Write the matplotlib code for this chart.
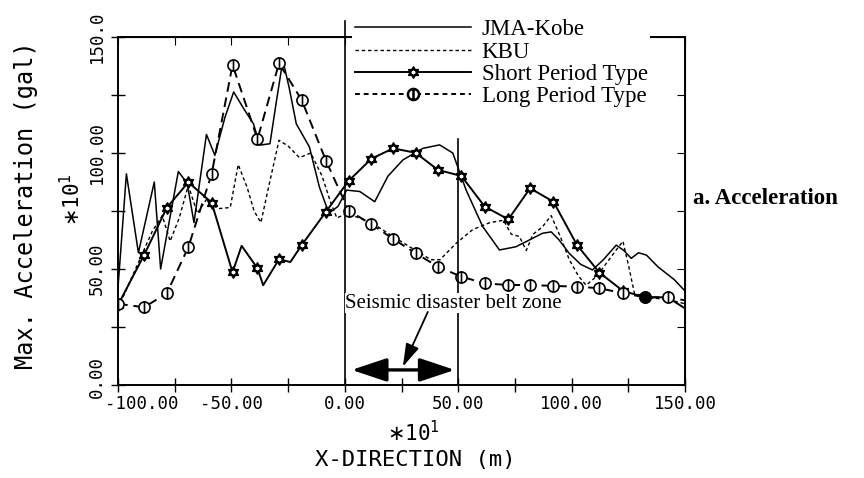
"""Max. acceleration along the X-direction across the seismic disaster belt zone."""

import matplotlib

matplotlib.use("Agg")
import matplotlib.pyplot as plt
from matplotlib.path import Path
from matplotlib.transforms import ScaledTranslation

# Marker stations shared by the two simulated waves (x in *10 m)
STATION_X = [-100, -88.5, -78.5, -69, -58.7, -49.5, -38.5, -29, -19, -8.3,
             1.7, 11.7, 21.3, 31.2, 41.1, 51.4, 61.7, 72.1, 81.7, 92,
             102.4, 112.3, 122.6, 132.2, 142.4]

# Short Period Type (values in *10 gal)
SHORT_Y = [34.5, 56, 76.4, 87.4, 78.6, 48.6, 50.3, 54.2, 60.3, 74.7,
           88, 97.5, 102, 100.1, 92.7, 90.1, 76.9, 71.4, 84.8, 79,
           60.3, 48.4, 40.6, 37.8, 37.8]
SHORT_EXTRA_X = [-45.5, -36, -24, 150]
SHORT_EXTRA_Y = [60, 43, 53, 33]

# Long Period Type
LONG_Y = [35, 33.5, 39.5, 59.4, 91, 138, 106, 138.7, 122.8, 96.7,
          75.2, 69.3, 63, 56.8, 51, 46.7, 43.8, 43.1, 43.1, 42.7,
          42.4, 41.7, 39.6, 37.8, 37.8]
LONG_EXTRA_X = [150]
LONG_EXTRA_Y = [36.5]
LONG_FILLED = [23]

# JMA-Kobe
JMA_X = [-100, -96.3, -91, -84, -81.2, -77.5, -73.4, -69.5, -66.5, -61,
         -57.3, -52.8, -49, -44.5, -40.3, -37.4, -33, -30.2, -27.3, -24.5,
         -21.4, -15.6, -11.2, -7, -3, 0.8, 6.6, 13.2, 19, 25.6,
         34.4, 41.8, 47.6, 53.5, 60.8, 68.2, 75.5, 87.2, 91, 94.5,
         98.9, 104, 109.2, 114, 119.7, 123, 126.3, 129.5, 133, 138,
         145.4, 150]
JMA_Y = [42, 91, 57, 87.5, 50, 70, 92, 87, 70, 108,
         99, 115.5, 126.3, 119, 112.6, 103.4, 104, 122, 140, 128,
         112.6, 102.6, 85.3, 74, 77, 84, 83.4, 79, 90, 97,
         102, 103.5, 100, 84, 68.3, 58.2, 59.6, 65.4, 66, 62.5,
         56.8, 52, 49.6, 54, 60.3, 58, 54.6, 57, 56, 51,
         45.3, 40.5]

# KBU
KBU_X = [-100, -95, -90, -85, -80.5, -77, -73, -69, -65, -61,
         -56, -50.5, -47, -43, -40, -37, -33, -29, -25, -20,
         -15, -10, -6, -3.5, 1, 11.7, 21.3, 31.2, 38, 42,
         49, 56.4, 64, 70, 73.4, 77, 80, 83, 87, 91,
         95, 99, 103, 106.4, 110, 113.7, 118, 122.6, 125, 127.7,
         135, 142, 150]
KBU_Y = [33, 44, 55, 66, 73, 62, 72, 86, 74, 80,
         76, 76.5, 95, 85, 75, 70, 88, 105.5, 103, 98,
         100, 90, 78, 72, 74, 70, 64, 58, 54, 54,
         61, 67, 70, 71, 65, 64, 58, 65, 68, 73,
         64, 54, 47, 43, 46, 50.3, 56, 62, 52, 39.5,
         37.5, 37, 35]

X_TICKS = [-100, -50, 0, 50, 100, 150]
X_TICK_LABELS = ["-100.00", "-50.00", "0.00", "50.00", "100.00", "150.00"]
Y_TICKS = [0, 50, 100, 150]
Y_TICK_LABELS = ["0.00", "50.00", "100.00", "150.0"]
MINOR_STEP = 25

ZONE_X = [0, 50]
ZONE_TOP = [157, 106]
ARROW_Y = 6.5

W, H = 864, 478
MONO = "DejaVu Sans Mono"
SERIF = "Liberation Serif"


def hexagram_marker():
    """Star-of-David marker made of two triangles."""
    up = [(0, 1), (-0.866, -0.5), (0.866, -0.5), (0, 1)]
    down = [(0, -1), (0.866, 0.5), (-0.866, 0.5), (0, -1)]
    codes = [Path.MOVETO, Path.LINETO, Path.LINETO, Path.CLOSEPOLY]
    return Path.make_compound_path(Path(up, codes), Path(down, codes))


def barred_circle_marker():
    """Open circle with a vertical bar through it."""
    bar = Path([(0, -1), (0, 1)], [Path.MOVETO, Path.LINETO])
    return Path.make_compound_path(Path.unit_circle(), bar)


def merged(xs, ys, extra_x, extra_y):
    pts = sorted(zip(list(xs) + list(extra_x), list(ys) + list(extra_y)))
    return [p[0] for p in pts], [p[1] for p in pts]


def main():
    fig = plt.figure(figsize=(W / 100, H / 100), dpi=100)
    ax = fig.add_axes([118 / W, 1 - 385 / H, 567 / W, 348 / H])

    ax.plot(JMA_X, JMA_Y, color="black", lw=1.1, label="JMA-Kobe")
    ax.plot(KBU_X, KBU_Y, color="black", lw=1.0, ls=(0, (2.5, 2)), label="KBU")

    sx, sy = merged(STATION_X, SHORT_Y, SHORT_EXTRA_X, SHORT_EXTRA_Y)
    ax.plot(sx, sy, color="black", lw=1.4)
    ax.plot(STATION_X, SHORT_Y, ls="none", marker=hexagram_marker(), ms=8,
            mfc="white", mec="black", mew=1.2, zorder=4)

    lx, ly = merged(STATION_X, LONG_Y, LONG_EXTRA_X, LONG_EXTRA_Y)
    ax.plot(lx, ly, color="black", lw=1.4, ls=(0, (5, 3)))
    ax.plot(STATION_X, LONG_Y, ls="none", marker=barred_circle_marker(), ms=8,
            mfc="white", mec="black", mew=1.2, zorder=4)
    ax.plot([STATION_X[i] for i in LONG_FILLED], [LONG_Y[i] for i in LONG_FILLED],
            ls="none", marker="o", ms=8, color="black", zorder=4)

    # legend proxies
    ax.plot([], [], color="black", lw=1.4, marker=hexagram_marker(), ms=8,
            mfc="white", mec="black", mew=1.2, label="Short Period Type")
    ax.plot([], [], color="black", lw=1.4, ls=(0, (2.5, 2)),
            marker=barred_circle_marker(), ms=8, mfc="white", mec="black",
            mew=1.8, label="Long Period Type")

    leg = ax.legend(loc="upper left", bbox_to_anchor=(0.393, 1.09),
                    frameon=True, facecolor="white", edgecolor="none",
                    framealpha=1, fancybox=False, borderpad=0.1,
                    handlelength=5.1, handletextpad=0.45, labelspacing=0.05,
                    prop={"family": SERIF, "size": 16.5})
    leg.set_zorder(5)

    # seismic disaster belt zone
    for x, top in zip(ZONE_X, ZONE_TOP):
        ax.plot([x, x], [0, top], color="black", lw=1.2, zorder=6, clip_on=False)
    ax.annotate("", xy=(ZONE_X[0] + 3, ARROW_Y), xytext=(ZONE_X[1] - 1.5, ARROW_Y),
                arrowprops=dict(arrowstyle="<|-|>,head_length=1.8,head_width=0.6",
                                mutation_scale=12, lw=2.4, color="black",
                                shrinkA=0, shrinkB=0), zorder=7)
    ax.annotate("", xy=(25.6, 7.9), xytext=(36.6, 31.5),
                arrowprops=dict(arrowstyle="-|>,head_length=1.0,head_width=0.3",
                                mutation_scale=14, lw=1.3, color="black",
                                shrinkA=0, shrinkB=0), zorder=7)
    ax.text(48, 35.3, "Seismic disaster belt zone", ha="center", va="center",
            family=SERIF, fontsize=15, zorder=6,
            bbox=dict(facecolor="white", edgecolor="none", pad=0.5))

    ax.set_xlim(-100, 150)
    ax.set_ylim(0, 150)
    ax.set_xticks(X_TICKS)
    ax.set_xticklabels(X_TICK_LABELS)
    ax.set_yticks(Y_TICKS)
    ax.set_yticklabels(Y_TICK_LABELS, rotation=90, va="center")
    ax.set_xticks(range(-100, 151, MINOR_STEP), minor=True)
    ax.set_yticks(range(0, 151, MINOR_STEP), minor=True)
    ax.tick_params(which="both", direction="inout", length=10, width=1.0,
                   labelsize=12.5)
    ax.tick_params(axis="x", pad=2)
    ax.tick_params(axis="y", pad=4)
    for lab in ax.get_xticklabels() + ax.get_yticklabels():
        lab.set_family(MONO)
    for sp in ax.spines.values():
        sp.set_linewidth(1.4)

    top = ax.secondary_xaxis("top")
    top.set_xticks(range(-100, 151, MINOR_STEP))
    top.tick_params(direction="in", length=6, labeltop=False)
    right = ax.secondary_yaxis("right")
    right.set_yticks(range(0, 151, MINOR_STEP))
    right.tick_params(direction="in", length=6, labelright=False)

    # nudge the corner labels apart as in the original plot
    first_x = ax.xaxis.get_major_ticks()[0].label1
    first_x.set_transform(first_x.get_transform()
                          + ScaledTranslation(0.24, 0, fig.dpi_scale_trans))
    first_y = ax.yaxis.get_major_ticks()[0].label1
    first_y.set_transform(first_y.get_transform()
                          + ScaledTranslation(0, 0.08, fig.dpi_scale_trans))

    fig.text(26 / W, 1 - 205 / H, "Max. Acceleration (gal)", rotation=90,
             ha="center", va="center", family=MONO, fontsize=17)
    fig.text(72 / W, 1 - 200 / H, r"$\ast\mathregular{10^{1}}$", rotation=90,
             ha="center", va="center", family=MONO, fontsize=15)
    fig.text(413 / W, 1 - 433 / H, r"$\ast\mathregular{10^{1}}$",
             ha="center", va="center", family=MONO, fontsize=15)
    fig.text(415 / W, 1 - 460 / H, "X-DIRECTION (m)", ha="center", va="center",
             family=MONO, fontsize=16)
    fig.text(693 / W, 1 - 199 / H, "a. Acceleration", ha="left", va="center",
             family=SERIF, fontweight="bold", fontsize=16.5)

    fig.savefig("out.png", dpi=100)


if __name__ == "__main__":
    main()
